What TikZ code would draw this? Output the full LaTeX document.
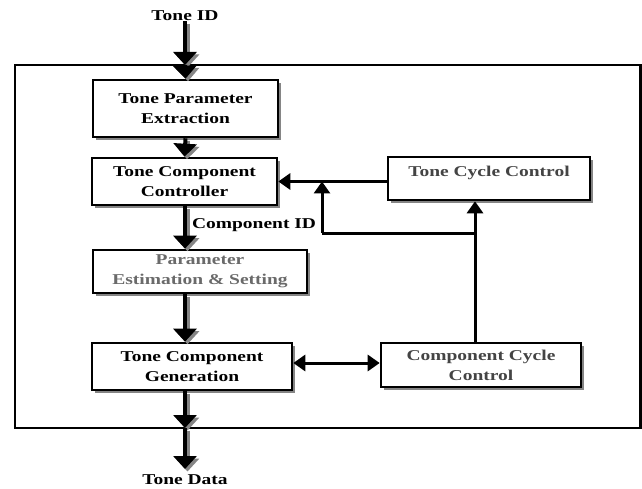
\documentclass[tikz,border=0pt]{standalone}
\usepackage{fontspec}
\setmainfont{Liberation Serif}
\newfontfamily\widefont[FakeStretch=1.3]{Liberation Serif}
\usetikzlibrary{arrows.meta,shadows}
\definecolor{txgray}{HTML}{6A6A6A}
\definecolor{txdark}{HTML}{444444}
\definecolor{shgray}{HTML}{858585}
\tikzset{
  lbl/.style={font=\widefont\bfseries\fontsize{15}{18}\selectfont, inner sep=0pt},
  blk/.style={draw, line width=2.6pt, fill=white, align=center,
    font=\widefont\bfseries\fontsize{15}{20}\selectfont, inner sep=0pt,
    drop shadow={shadow xshift=3pt, shadow yshift=-3pt, fill=shgray, opacity=1}},
  mainarr/.style={line width=4pt, -{Triangle[length=13pt,width=23pt]},
    preaction={draw=shgray, line width=4pt, transform canvas={xshift=2.5pt,yshift=-2.5pt}}},
  subarr/.style={line width=3pt, -{Triangle[length=12pt,width=16pt]}},
  plain/.style={line width=3pt},
}
\begin{document}
\begin{tikzpicture}[x=1pt,y=-1pt]
\useasboundingbox (0,0) rectangle (642,489);
% frame
\draw[line width=2.5pt] (15,65) rectangle (640.5,428);
% blocks
\node[blk, minimum width=185pt, minimum height=57pt] (b1) at (185.5,108.5) {Tone Parameter\\Extraction};
\node[blk, minimum width=185pt, minimum height=47pt] (b2) at (184.5,181.5) {Tone Component\\Controller};
\node[blk, minimum width=214pt, minimum height=43pt, text=txgray] (b3) at (200,271.5) {Parameter\\Estimation \& Setting};
\node[blk, minimum width=200pt, minimum height=47pt] (b4) at (192,366.5) {Tone Component\\Generation};
\node[blk, minimum width=202pt, minimum height=43pt, text=txdark] (tcc) at (489,178.5) {Tone Cycle Control\\[-6pt]\mbox{}};
\node[blk, minimum width=200pt, minimum height=44pt, text=txdark] (ccc) at (481,365) {Component Cycle\\Control};
% labels
\node[lbl] (tid) at (185,16) {Tone ID};
\node[lbl] (tdata) at (185,480) {Tone Data};
\coordinate (ftop) at (185,65);
\coordinate (fbot) at (185,428);
\coordinate (tend) at (185,469);
\coordinate (jn) at (322,233);
\coordinate (vx) at (475,233);
% main chain
\draw[mainarr] (tid.south) -- (ftop);
\draw[mainarr] (ftop) -- (b1.north);
\draw[mainarr] (b1.south) -- (b2.north);
\draw[mainarr] (b2.south -| 185,0) -- (b3.north -| 185,0) node[lbl, midway, right=5pt, yshift=2pt] {Component ID};
\draw[mainarr] (b3.south -| 185,0) -- (b4.north -| 185,0);
\draw[mainarr] (b4.south -| 185,0) -- (fbot);
\draw[mainarr] (fbot) -- (tend);
% feedback loops
\draw[subarr] (tcc.west |- b2.east) -- (b2.east);
\draw[plain] (vx) -- (jn);
\draw[subarr] (jn) -- (jn |- b2.east);
\draw[subarr] (vx |- ccc.north) -- (vx |- tcc.south);
\draw[subarr, {Triangle[length=12pt,width=16pt]}-{Triangle[length=12pt,width=16pt]}] (b4.east |- 0,363) -- (ccc.west |- 0,363);
\end{tikzpicture}
\end{document}
